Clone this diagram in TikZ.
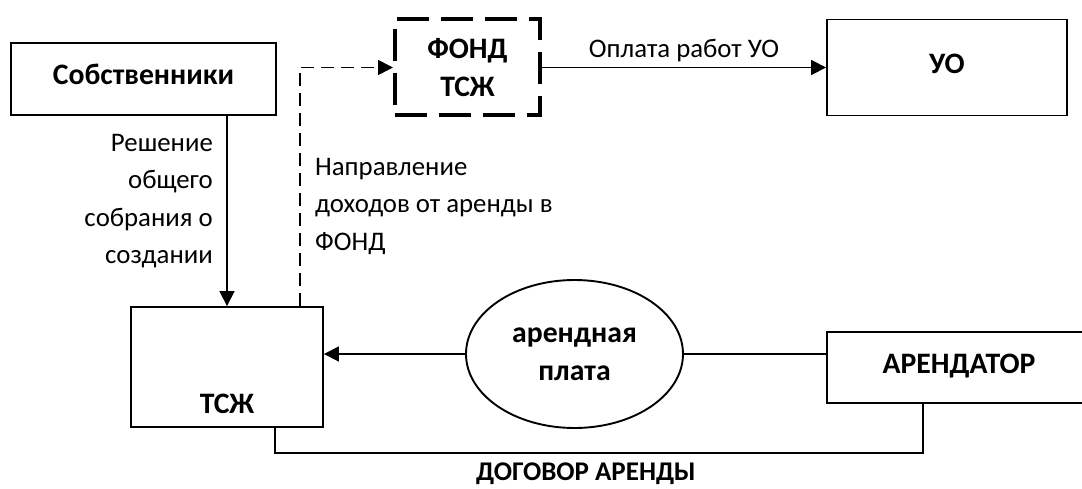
\documentclass[tikz,border=0pt]{standalone}
\usepackage{fontspec}
\setmainfont{Carlito}
\usepackage{tikz}
\usetikzlibrary{shapes.geometric, arrows.meta, positioning}

\begin{document}
\fontsize{26.8}{37.5}\selectfont
\begin{tikzpicture}[x=1pt, y=-1pt,
        every node/.style={inner sep=0pt},
        bigbold/.style={font=\fontsize{29.7}{38}\selectfont\bfseries},
        box/.style={draw, line width=1.9pt, bigbold, text height=19pt, text depth=7pt},
        fondbox/.style={draw, line width=4pt, dash pattern=on 32pt off 12pt, bigbold, align=center},
        arrow/.style={line width=1.8pt, -{Triangle[length=15pt, width=15pt]}},
        dashline/.style={line width=1.8pt, dash pattern=on 13pt off 7pt, -{Triangle[length=15pt, width=15pt]}}]
        \useasboundingbox (0,0) rectangle (1082,489);

        % Участники
        \node[box, minimum width=265pt, minimum height=72pt] (sob) at (143.5,79) {Собственники};
        \node[fondbox, minimum width=145pt, minimum height=96pt] (fond) at (467.5,67.5) {ФОНД\\ТСЖ};
        \node[box, minimum width=240pt, minimum height=96pt] (uo) at (947,67.5) {УО};
        \node[box, minimum width=192pt, minimum height=120pt] (tszh) at (227,367) {};
        \node[bigbold] (tszhname) at (227,404) {ТСЖ};
        \node[draw, ellipse, line width=1.9pt, bigbold, align=center,
              minimum width=217pt, minimum height=148pt] (plata) at (574.5,354) {арендная\\плата};
        \node[box, minimum width=264pt, minimum height=71pt] (arend) at (959,367.5) {АРЕНДАТОР};

        % Связи
        \draw[arrow] (tszh.north |- sob.south) -- (tszh.north);
        \node[anchor=north east, align=right] (reshenie) at (213,134) {Решение\\общего\\собрания о\\создании};

        \draw[dashline] ([xshift=-24pt]tszh.north east) |- (fond.west);
        \node[anchor=north west, align=left] (napr) at (315,158) {Направление\\доходов от аренды в\\ФОНД};

        \draw[arrow] (fond.east) -- node[above=5pt] (oplata) {Оплата работ УО} (uo.west);

        \draw[arrow] (plata.west) -- (plata.west -| tszh.east);
        \draw[line width=1.8pt] (plata.east) -- (plata.east -| arend.west);

        % Договор аренды
        \draw[line width=1.8pt] ([xshift=48pt]tszh.south) -- ++(0,25) -| ([xshift=-36pt]arend.south);
        \node[font=\fontsize{27}{30}\selectfont\bfseries] (dogovor) at (586,474) {ДОГОВОР АРЕНДЫ};
\end{tikzpicture}
\end{document}
